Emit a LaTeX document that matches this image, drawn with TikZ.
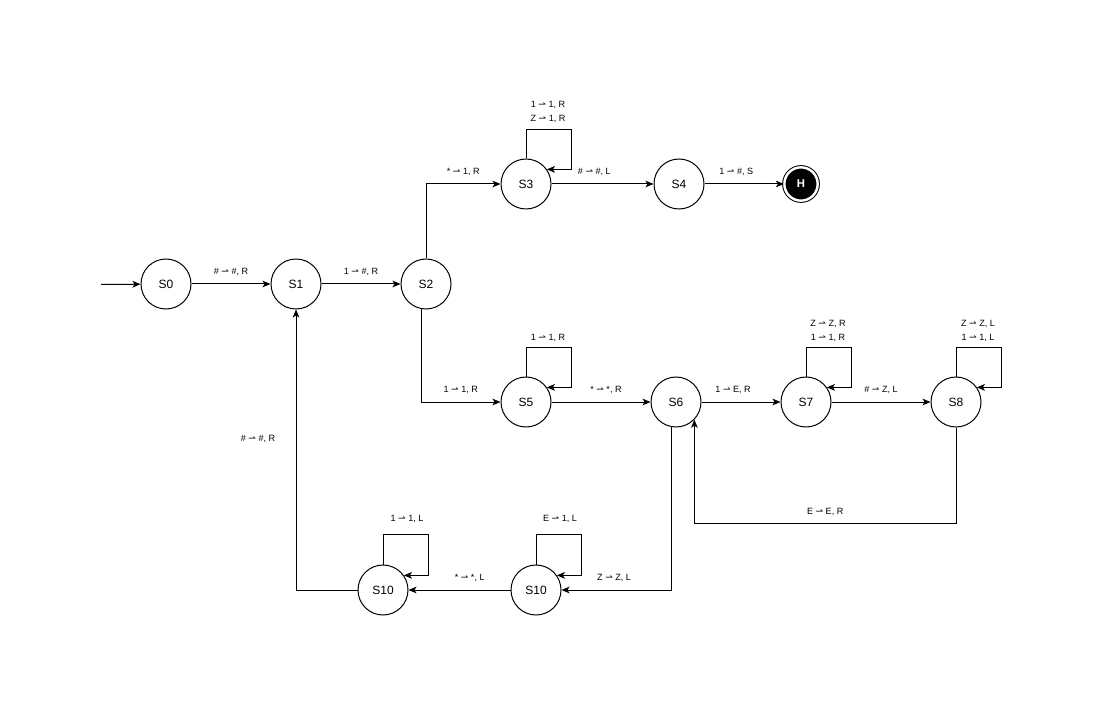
\documentclass[tikz,border=0pt]{standalone}
\usepackage{fontspec}
\setmainfont{Liberation Sans}
\newfontfamily\symfont{DejaVu Sans}
\newcommand{\hp}{{\symfont ⇀}}
\usetikzlibrary{arrows.meta,calc}
\begin{document}
\begin{tikzpicture}[x=0.75pt,y=-0.75pt,
  state/.style={circle,draw,line width=0.75pt,minimum size=37.5pt,inner sep=0pt,font=\fontsize{9}{10}\selectfont},
  halt/.style={circle,draw,double,double distance=1.8pt,line width=0.75pt,fill=black,text=white,minimum size=25pt,inner sep=0pt,font=\bfseries\fontsize{8.5}{10}\selectfont},
  arr/.style={line width=0.75pt,-{Stealth[length=6pt,width=5pt,inset=1.5pt]}},
  lbl/.style={font=\fontsize{6.8}{8}\selectfont,inner sep=0pt}]
\useasboundingbox (0,0) rectangle (1102,716);

% states
\node[state] (S0) at (166,284) {S0};
\node[state] (S1) at (296,284) {S1};
\node[state] (S2) at (426,284) {S2};
\node[state] (S3) at (526,184) {S3};
\node[state] (S4) at (679,184) {S4};
\node[halt]  (H)  at (801,184) {H};
\node[state] (S5) at (526,402) {S5};
\node[state] (S6) at (676,402) {S6};
\node[state] (S7) at (806,402) {S7};
\node[state] (S8) at (956,402) {S8};
\node[state] (S10a) at (383,590) {S10};
\node[state] (S10b) at (536,590) {S10};
\coordinate (start) at (101,284.5);

% transitions
\draw[arr] (start) -- (S0);
\draw[arr] (S0) -- node[lbl,above=6pt] {\# \hp{} \#, R} (S1);
\draw[arr] (S1) -- node[lbl,above=6pt] {1 \hp{} \#, R} (S2);
\draw[arr] (S2.north) |- node[lbl,pos=0.75,above=6pt] {* \hp{} 1, R} (S3);
\draw[arr] (S3) -- node[lbl,pos=0.42,above=6pt] {\# \hp{} \#, L} (S4);
\draw[arr] (S4) -- node[lbl,pos=0.4,above=6pt] {1 \hp{} \#, S} (H);
\draw[arr] (S2.-101) |- node[lbl,pos=0.75,above=6pt] {1 \hp{} 1, R} (S5);
\draw[arr] (S5) -- node[lbl,pos=0.55,above=6pt] {* \hp{} *, R} (S6);
\draw[arr] (S6) -- node[lbl,pos=0.4,above=6pt] {1 \hp{} E, R} (S7);
\draw[arr] (S7) -- node[lbl,pos=0.5,above=6pt] {\# \hp{} Z, L} (S8);
\draw[arr] (S8.south) |- node[lbl,pos=0.75,above=6pt] {E \hp{} E, R} ($(S6.-44)+(0,104)$) -- (S6.-44);
\draw[arr] (S6.-101) |- node[lbl,pos=0.76,above=6pt] {Z \hp{} Z, L} (S10b);
\draw[arr] (S10b) -- node[lbl,pos=0.4,above=6pt] {* \hp{} *, L} (S10a);
\draw[arr] (S10a) -| (S1);
\node[lbl] (l10) at (258,439) {\# \hp{} \#, R};

% self loops
\draw[arr] (S3.north) -- ++(0,-29) -- ++(45,0) |- (S3.35);
\node[lbl] (l3a) at (548,105) {1 \hp{} 1, R};
\node[lbl] (l3b) at (548,119) {Z \hp{} 1, R};
\draw[arr] (S5.north) -- ++(0,-29) -- ++(45,0) |- (S5.35);
\node[lbl] (l5) at (548,338) {1 \hp{} 1, R};
\draw[arr] (S7.north) -- ++(0,-29) -- ++(45,0) |- (S7.35);
\node[lbl] (l7a) at (828,324) {Z \hp{} Z, R};
\node[lbl] (l7b) at (828,338) {1 \hp{} 1, R};
\draw[arr] (S8.north) -- ++(0,-29) -- ++(45,0) |- (S8.35);
\node[lbl] (l8a) at (978,324) {Z \hp{} Z, L};
\node[lbl] (l8b) at (978,338) {1 \hp{} 1, L};
\draw[arr] (S10b.north) -- ++(0,-30) -- ++(45,0) |- (S10b.35);
\node[lbl] (l10b) at (560,519) {E \hp{} 1, L};
\draw[arr] (S10a.north) -- ++(0,-30) -- ++(45,0) |- (S10a.35);
\node[lbl] (l10a) at (407,519) {1 \hp{} 1, L};
\end{tikzpicture}
\end{document}
